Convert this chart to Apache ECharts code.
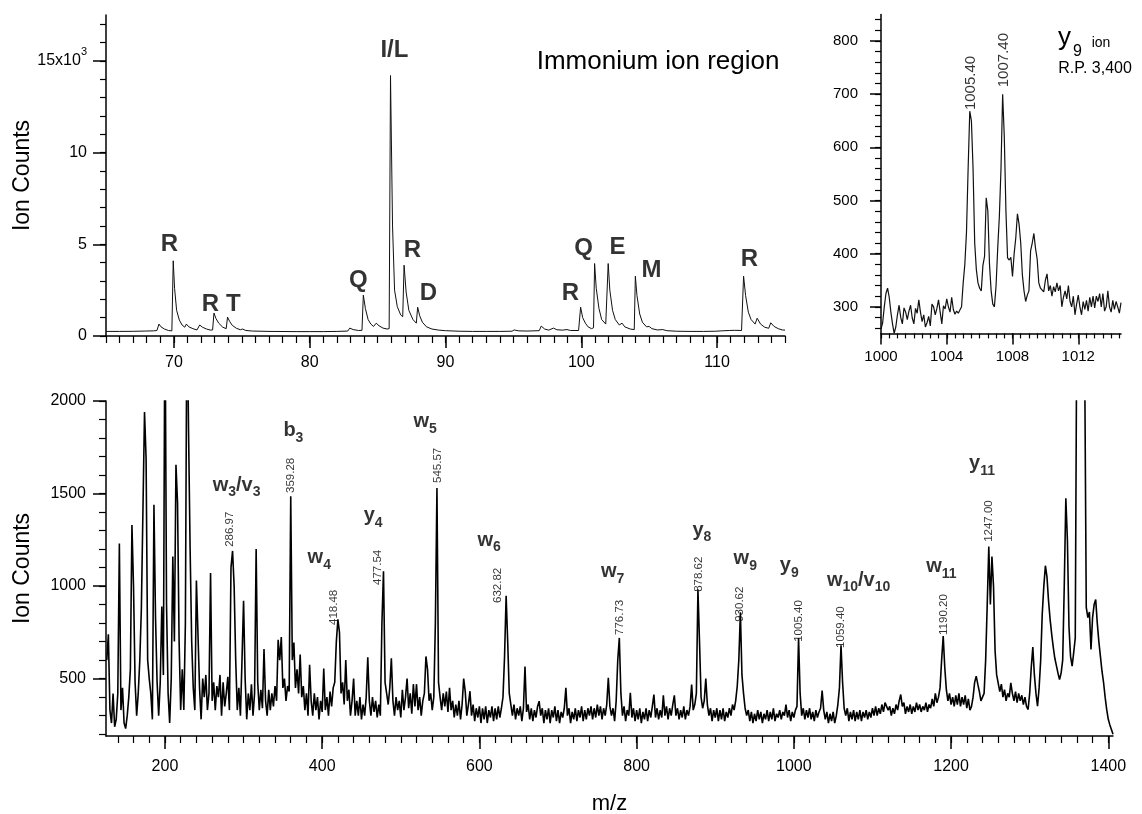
<!DOCTYPE html>
<html><head><meta charset="utf-8">
<script src="https://cdn.jsdelivr.net/npm/echarts@6/dist/echarts.min.js"></script>
<style>html,body{margin:0;padding:0;background:#fff}#c{width:1142px;height:814px}</style>
</head><body><div id="c"></div>
<script>
const FONT = '"Liberation Sans", Arial, Helvetica, sans-serif';
const INK = '#000';

// ---------- Immonium ion region (top left) : [m/z, ion counts] ----------
const immoniumTrace = [
 [65,250],[66,250],[67,255],[67.9,270],[68.5,280],[68.75,300],[68.9,650],[69.05,500],[69.3,380],[69.6,300],[69.85,280],
 [69.95,4100],[70.05,2600],[70.2,1400],[70.4,870],[70.6,600],[70.8,480],[70.92,650],[71.1,500],[71.4,400],[71.7,330],
 [71.9,600],[72.1,480],[72.4,380],[72.7,320],[72.85,330],[72.95,1250],[73.1,950],[73.3,700],[73.6,480],[73.85,400],
 [73.95,1030],[74.1,800],[74.3,580],[74.6,420],[74.9,340],[75.05,380],[75.3,300],[75.8,270],[77,250],[79,240],[80,240],
 [81,240],[82,250],[82.8,270],[82.95,430],[83.2,350],[83.6,300],[83.85,310],[83.95,2230],[84.1,1500],[84.3,900],
 [84.5,650],[84.7,520],[84.9,700],[85.1,560],[85.4,430],[85.7,380],[85.85,400],[85.95,14200],[86.1,6000],[86.25,2500],
 [86.45,1600],[86.7,1150],[86.85,1050],[86.95,3860],[87.1,2400],[87.3,1400],[87.6,900],[87.85,700],[87.95,1570],
 [88.1,1100],[88.3,750],[88.6,500],[89,380],[89.5,320],[90,290],[91,260],[92,250],[93,250],[94,250],[94.9,260],
 [95.05,330],[95.4,280],[96,270],[96.9,290],[97.05,540],[97.3,380],[97.6,320],[97.95,430],[98.2,340],[98.6,320],
 [98.95,350],[99.2,300],[99.8,300],[99.95,1570],[100.1,1000],[100.3,700],[100.5,500],[100.75,400],[100.9,450],
 [100.98,3950],[101.1,2600],[101.3,1500],[101.5,900],[101.8,650],[101.9,700],[101.98,3950],[102.1,2500],[102.3,1400],
 [102.5,900],[102.8,600],[103.0,700],[103.2,500],[103.6,380],[103.9,350],[103.98,3260],[104.1,2200],[104.3,1200],
 [104.5,750],[104.8,500],[105.0,520],[105.2,400],[105.6,330],[106.0,350],[106.3,290],[107,260],[108,250],[109,250],
 [109.9,260],[110.0,330],[110.3,280],[110.9,300],[111.0,400],[111.3,310],[111.8,300],[111.95,3260],[112.1,2200],
 [112.3,1300],[112.5,900],[112.8,650],[112.95,970],[113.2,650],[113.5,480],[113.8,420],[113.95,720],[114.2,520],
 [114.5,400],[114.8,330],[115,320]
];
const immoniumLabels = [
 [69.67,5019,'R'],[72.69,1746,'R'],[74.38,1746,'T'],[83.59,3055,'Q'],[86.24,15548,'I/L'],[87.56,4692,'R'],
 [88.74,2318,'D'],[99.2,2318,'R'],[100.16,4800,'Q'],[102.66,4828,'E'],[105.16,3600,'M'],[112.38,4200,'R']
];
const immoniumXTicks = [70,80,90,100,110];
const immoniumXTickLabels = ['70','80','90','100','110'];
const immoniumYTicks = [0,5000,10000,15000];
const immoniumYTickLabels = ['0','5','10','{a|15x10}{s|3}'];

// ---------- y9 ion close-up (top right) ----------
const y9Trace = [
 [1000.0,258],[1000.1,270],[1000.2,300],[1000.3,325],[1000.4,335],[1000.5,318],[1000.6,290],[1000.7,268],[1000.8,250],
 [1000.9,262],[1001.0,285],[1001.1,303],[1001.2,280],[1001.3,268],[1001.4,298],[1001.5,290],[1001.6,276],[1001.7,292],
 [1001.8,303],[1001.9,279],[1002.0,268],[1002.1,297],[1002.2,288],[1002.3,313],[1002.4,290],[1002.5,272],[1002.6,285],
 [1002.7,262],[1002.8,270],[1002.9,282],[1003.0,264],[1003.1,305],[1003.2,300],[1003.3,285],[1003.4,297],[1003.5,313],
 [1003.6,290],[1003.7,268],[1003.8,302],[1003.9,296],[1004.0,315],[1004.1,300],[1004.2,290],[1004.3,318],[1004.4,295],
 [1004.5,286],[1004.6,292],[1004.7,288],[1004.8,290],[1004.9,300],[1005.0,345],[1005.1,380],[1005.2,440],[1005.3,560],
 [1005.4,668],[1005.5,650],[1005.6,560],[1005.7,420],[1005.8,370],[1005.9,345],[1006.0,335],[1006.1,330],[1006.2,378],
 [1006.3,395],[1006.4,505],[1006.5,480],[1006.6,380],[1006.7,330],[1006.8,305],[1006.9,300],[1007.0,340],[1007.1,410],
 [1007.2,470],[1007.3,560],[1007.4,700],[1007.5,620],[1007.6,480],[1007.7,392],[1007.8,388],[1007.9,393],[1008.0,357],
 [1008.1,400],[1008.2,430],[1008.3,475],[1008.4,455],[1008.5,420],[1008.6,360],[1008.7,330],[1008.8,310],[1008.9,322],
 [1009.0,330],[1009.1,405],[1009.2,420],[1009.3,438],[1009.4,410],[1009.5,390],[1009.6,345],[1009.7,335],[1009.8,338],
 [1009.9,328],[1010.0,350],[1010.1,362],[1010.2,330],[1010.3,340],[1010.4,320],[1010.5,338],[1010.6,328],[1010.7,345],
 [1010.8,330],[1010.9,340],[1011.0,300],[1011.1,318],[1011.2,330],[1011.3,315],[1011.4,340],[1011.5,310],[1011.6,300],
 [1011.7,320],[1011.8,285],[1011.9,305],[1012.0,322],[1012.1,300],[1012.2,285],[1012.3,310],[1012.4,295],[1012.5,312],
 [1012.6,292],[1012.7,318],[1012.8,300],[1012.9,320],[1013.0,298],[1013.1,320],[1013.2,310],[1013.3,325],[1013.4,300],
 [1013.5,325],[1013.6,292],[1013.7,300],[1013.8,330],[1013.9,300],[1014.0,290],[1014.1,312],[1014.2,295],[1014.3,310],
 [1014.4,300],[1014.5,288],[1014.6,308]
];
const y9PeakLabels = [[1005.49,670,'1005.40'],[1007.45,713,'1007.40']];
const y9XTicks = [1000,1004,1008,1012];
const y9XTickLabels = ['1000','1004','1008','1012'];
const y9YTicks = [300,400,500,600,700,800];
const y9YTickLabels = ['300','400','500','600','700','800'];

// ---------- full MS/MS spectrum (bottom) : counts sampled every 2 m/z from 126 ----------
const fullMzStart = 126;
const fullMzStep = 2;
const fullCounts = [
 600,740,330,260,420,240,280,420,1230,330,
 450,260,230,300,400,550,1330,1000,480,300,
 420,600,880,870,1940,1690,600,500,420,280,
 1440,830,480,300,480,890,520,2600,900,420,
 260,500,1160,700,1655,1450,700,330,550,330,
 800,2600,1840,1200,700,450,330,1030,1020,450,
 280,500,400,520,330,420,1070,380,480,330,
 460,400,520,300,480,350,420,510,330,1100,
 1190,1000,600,330,450,300,600,920,500,280,
 420,330,470,300,420,1200,480,330,440,340,
 660,380,300,440,330,420,350,460,380,710,
 600,725,450,500,380,460,430,1485,600,695,
 450,550,420,630,400,460,330,420,300,575,
 380,300,420,330,400,280,380,320,555,330,
 400,300,430,350,450,480,700,820,750,420,
 480,360,600,380,440,300,380,500,300,380,
 300,400,280,360,300,400,615,380,300,400,
 320,380,290,360,300,800,1080,480,420,360,
 450,610,380,300,400,330,380,290,440,330,
 400,500,340,420,310,470,350,470,330,400,
 300,380,420,620,550,380,420,330,400,800,
 1530,480,400,330,420,350,430,320,450,330,
 380,290,360,300,380,280,360,500,430,300,
 360,432,300,360,270,340,290,350,260,340,
 280,350,260,330,290,350,270,340,280,350,
 290,340,400,620,948,700,420,360,300,360,
 280,340,300,350,270,340,565,320,360,280,
 340,270,330,290,350,378,300,340,260,330,
 280,340,260,330,290,350,270,330,260,320,
 290,340,450,300,340,260,320,280,340,270,
 330,290,350,270,330,280,340,300,350,280,
 340,290,360,300,350,280,340,300,360,505,
 350,300,340,270,380,600,720,420,300,350,
 270,330,300,423,290,340,270,330,280,340,
 260,320,280,340,270,330,290,350,414,290,
 340,280,330,290,410,300,350,280,340,300,
 360,410,300,340,280,330,290,350,280,330,
 300,350,468,330,360,420,981,700,400,340,
 380,500,360,300,340,270,330,290,340,270,
 330,280,340,270,320,290,340,300,360,330,
 380,459,600,858,520,420,340,300,330,270,
 320,260,310,270,330,280,320,260,310,280,
 330,270,320,280,340,270,310,290,330,280,
 320,300,360,290,330,270,320,290,330,350,
 720,420,300,340,280,330,290,340,280,320,
 270,330,290,320,340,435,330,280,320,260,
 310,270,320,260,300,360,450,680,480,340,
 300,340,270,320,280,330,270,320,280,330,
 270,320,290,330,280,320,290,340,300,350,
 300,340,310,360,320,370,378,330,350,300,
 340,310,360,330,380,414,350,370,310,350,
 320,360,310,350,320,370,330,360,320,350,
 330,370,320,360,340,390,350,420,370,400,
 450,600,730,560,440,380,420,360,400,350,
 410,360,420,350,400,360,410,340,390,330,
 350,400,480,513,470,430,380,400,420,600,
 900,1214,900,1160,1000,650,520,513,430,470,
 400,440,380,420,400,477,420,380,430,370,
 420,380,410,360,400,350,333,420,560,670,
 520,420,351,450,600,850,1000,1110,1050,920,
 820,740,670,610,570,530,495,530,600,1000,
 1475,1250,780,620,567,640,720,2500,3500,4000,
 3600,2900,2200,885,830,860,657,830,900,927,
 800,700,620,540,479,400,333,280,250,225,
 200
];
// rotated peak m/z annotations: [m/z, counts at label foot, text]
const fullMassLabels = [
 [282.2,1212,'286.97'],[360.4,1503,'359.28'],[415.2,790,'418.48'],[470.5,1006,'477.54'],[546.9,1557,'545.57'],
 [623.9,909,'632.82'],[779.1,736,'776.73'],[879.6,969,'878.62'],[931.8,807,'930.62'],[1006.9,699,'1005.40'],
 [1060.3,666,'1059.40'],[1190.2,736,'1190.20'],[1248.1,1239,'1247.00']
];
// fragment-ion annotations: [m/z, counts, text with _subscript]
const fullIonLabels = [
 [291.1,1546,'w_3/v_3'],[363.4,1838,'b_3'],[396.3,1152,'w_4'],[464.8,1379,'y_4'],[531,1887,'w_5'],
 [612.4,1249,'w_6'],[769.6,1077,'w_7'],[883.1,1303,'y_8'],[938.2,1147,'w_9'],[994.2,1109,'y_9'],
 [1082.4,1031,'w_10/v_10'],[1187.6,1104,'w_11'],[1239.4,1660,'y_11']
];
const fullXTicks = [200,400,600,800,1000,1200,1400];
const fullXTickLabels = ['200','400','600','800','1000','1200','1400'];
const fullYTicks = [500,1000,1500,2000];
const fullYTickLabels = ['500','1000','1500','2000'];

// ---------- build ----------
function steps(a, b, s) { const r = []; for (let v = a; v <= b + 1e-9; v += s) r.push(Math.round(v * 100) / 100); return r; }

function axisPair(dim, gridIndex, min, max, majors, majorLabels, minors, o) {
  const pos = dim === 'x' ? 'bottom' : 'left';
  const major = {
    type: 'value', gridIndex, min, max, position: pos, scale: true,
    axisLine: {show: true, onZero: false, lineStyle: {color: INK, width: 1.5}},
    axisTick: {show: true, inside: false, length: o.majorLen, customValues: majors, lineStyle: {color: INK, width: 1.5}},
    axisLabel: {show: true, customValues: majors, margin: o.margin, color: INK, fontFamily: FONT, fontSize: o.fontSize,
      formatter: v => { const i = majors.findIndex(m => Math.abs(m - v) < 1e-6); return i < 0 ? '' : majorLabels[i]; },
      rich: o.rich || {}},
    splitLine: {show: false}, minorTick: {show: false}, minorSplitLine: {show: false}
  };
  if (o.name) Object.assign(major, {name: o.name, nameLocation: 'middle', nameGap: o.nameGap, nameMoveOverlap: false,
    nameTextStyle: {color: INK, fontFamily: FONT, fontSize: o.nameSize}});
  const minor = {
    type: 'value', gridIndex, min, max, position: pos, scale: true,
    axisLine: {show: false, onZero: false},
    axisTick: {show: true, inside: false, length: o.minorLen, customValues: minors, lineStyle: {color: INK, width: 1.2}},
    axisLabel: {show: false}, splitLine: {show: false}
  };
  return [major, minor];
}

const xAxes = [
  ...axisPair('x', 0, 65, 115, immoniumXTicks, immoniumXTickLabels, steps(65, 115, 1), {majorLen: 12, minorLen: 7, margin: 19, fontSize: 16}),
  ...axisPair('x', 1, 1000, 1014.6, y9XTicks, y9XTickLabels, steps(1000, 1014.5, 0.5), {majorLen: 11, minorLen: 5, margin: 16, fontSize: 15}),
  ...axisPair('x', 2, 125, 1406, fullXTicks, fullXTickLabels, steps(140, 1400, 20), {majorLen: 13, minorLen: 7, margin: 23, fontSize: 16, name: 'm/z', nameGap: 57, nameSize: 22})
];
const yAxes = [
  ...axisPair('y', 0, 0, 17500, immoniumYTicks, immoniumYTickLabels, steps(0, 17000, 1000), {majorLen: 13, minorLen: 6, margin: 19, fontSize: 16,
    name: 'Ion Counts', nameGap: 72, nameSize: 23,
    rich: {a: {fontFamily: FONT, fontSize: 16, color: INK, lineHeight: 28}, s: {fontFamily: FONT, fontSize: 11, color: INK, lineHeight: 28, verticalAlign: 'top'}}}),
  ...axisPair('y', 1, 250, 850, y9YTicks, y9YTickLabels, steps(260, 840, 20), {majorLen: 11, minorLen: 6, margin: 23, fontSize: 15}),
  ...axisPair('y', 2, 190, 2000, fullYTicks, fullYTickLabels, steps(200, 2000, 100), {majorLen: 13, minorLen: 7, margin: 20, fontSize: 16,
    name: 'Ion Counts', nameGap: 72, nameSize: 23})
];

const fullData = fullCounts.map((c, i) => [fullMzStart + i * fullMzStep, c]);
const lineBase = {type: 'line', showSymbol: false, symbol: 'none', animation: false, silent: true, smooth: false,
  lineStyle: {color: '#111', width: 1}};
const labelSeriesBase = {type: 'scatter', symbolSize: 1, itemStyle: {color: 'rgba(0,0,0,0)'}, silent: true, animation: false, z: 5, clip: false};
const toItems = arr => arr.map(d => ({value: [d[0], d[1]], name: d[2]}));
const richIon = s => s.split(/(_\d+)/).filter(Boolean).map(t => t[0] === '_' ? '{s|' + t.slice(1) + '}' : '{m|' + t + '}').join('');

const option = {
  backgroundColor: '#fff',
  animation: false,
  grid: [
    {left: 106, top: 15, width: 679, height: 321, outerBoundsMode: 'none', containLabel: false},
    {left: 881, top: 14.4, width: 240, height: 319, outerBoundsMode: 'none', containLabel: false},
    {left: 106, top: 401, width: 1007, height: 335, outerBoundsMode: 'none', containLabel: false}
  ],
  xAxis: xAxes,
  yAxis: yAxes,
  series: [
    Object.assign({}, lineBase, {xAxisIndex: 0, yAxisIndex: 0, data: immoniumTrace}),
    Object.assign({}, lineBase, {xAxisIndex: 2, yAxisIndex: 2, data: y9Trace, lineStyle: {color: '#111', width: 1.2}}),
    Object.assign({}, lineBase, {xAxisIndex: 4, yAxisIndex: 4, data: fullData, lineStyle: {color: '#000', width: 1.6}}),
    Object.assign({}, labelSeriesBase, {xAxisIndex: 0, yAxisIndex: 0, data: toItems(immoniumLabels),
      label: {show: true, position: 'inside', formatter: p => p.name, fontFamily: FONT, fontSize: 24, fontWeight: 'bold', color: INK}}),
    Object.assign({}, labelSeriesBase, {xAxisIndex: 2, yAxisIndex: 2, data: toItems(y9PeakLabels),
      label: {show: true, position: 'inside', rotate: 90, align: 'left', verticalAlign: 'middle', formatter: p => p.name, fontFamily: FONT, fontSize: 15, color: INK}}),
    Object.assign({}, labelSeriesBase, {xAxisIndex: 4, yAxisIndex: 4, data: toItems(fullMassLabels),
      label: {show: true, position: 'inside', rotate: 90, align: 'left', verticalAlign: 'middle', formatter: p => p.name, fontFamily: FONT, fontSize: 11.5, color: INK}}),
    Object.assign({}, labelSeriesBase, {xAxisIndex: 4, yAxisIndex: 4, data: toItems(fullIonLabels),
      label: {show: true, position: 'inside', align: 'center', verticalAlign: 'middle', formatter: p => richIon(p.name),
        rich: {
          m: {fontFamily: FONT, fontSize: 20, fontWeight: 'bold', color: INK, lineHeight: 28},
          s: {fontFamily: FONT, fontSize: 14, fontWeight: 'bold', color: INK, lineHeight: 28, verticalAlign: 'bottom'}
        }}})
  ],
  graphic: [
    {type: 'text', x: 536.7, y: 62.3, silent: true, style: {text: 'Immonium ion region', fontFamily: FONT, fontSize: 26, fill: INK, align: 'left', verticalAlign: 'middle', textAlign: 'left', textVerticalAlign: 'middle'}},
    {type: 'text', x: 1058, y: 37.7, silent: true, style: {text: 'y', fontFamily: FONT, fontSize: 26, fill: INK, align: 'left', verticalAlign: 'middle', textAlign: 'left', textVerticalAlign: 'middle'}},
    {type: 'text', x: 1073, y: 51.5, silent: true, style: {text: '9', fontFamily: FONT, fontSize: 16, fill: INK, align: 'left', verticalAlign: 'middle', textAlign: 'left', textVerticalAlign: 'middle'}},
    {type: 'text', x: 1091.7, y: 43.5, silent: true, style: {text: 'ion', fontFamily: FONT, fontSize: 14, fill: INK, align: 'left', verticalAlign: 'middle', textAlign: 'left', textVerticalAlign: 'middle'}},
    {type: 'text', x: 1058.3, y: 69, silent: true, style: {text: 'R.P. 3,400', fontFamily: FONT, fontSize: 16, fill: INK, align: 'left', verticalAlign: 'middle', textAlign: 'left', textVerticalAlign: 'middle'}}
  ]
};

const chart = echarts.init(document.getElementById('c'), null, {renderer: 'canvas', width: 1142, height: 814});
chart.setOption(option);
</script></body></html>
